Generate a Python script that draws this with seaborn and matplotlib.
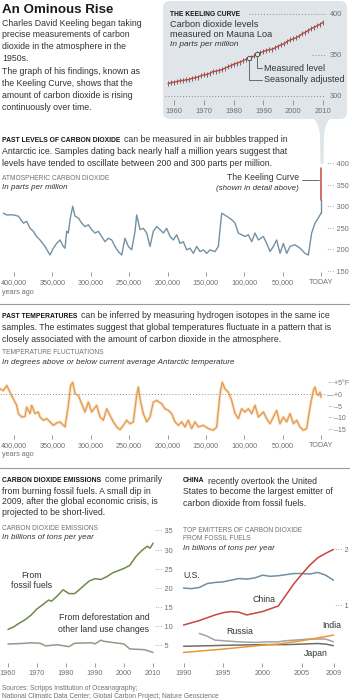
import matplotlib
matplotlib.use("Agg")
import matplotlib.pyplot as plt
from matplotlib.transforms import Affine2D
from matplotlib.patches import FancyBboxPatch, PathPatch
from matplotlib.path import Path
from matplotlib.lines import Line2D
import numpy as np
import pandas as pd
import seaborn as sns

# ---------------------------------------------------------------- data
keeling_years = list(range(1958, 2011))
keeling_ppm = [315.3, 316.0, 316.9, 317.6, 318.5, 319.0, 319.6, 320.0, 321.4, 322.2,
               323.0, 324.6, 325.7, 326.3, 327.5, 329.7, 330.2, 331.1, 332.0, 333.8,
               335.4, 336.8, 338.7, 339.9, 341.1, 342.8, 344.4, 345.9, 347.2, 348.9,
               351.5, 352.9, 354.2, 355.6, 356.4, 357.1, 358.8, 360.8, 362.6, 363.7,
               366.7, 368.4, 369.6, 371.1, 373.2, 375.8, 377.5, 379.8, 381.9, 383.8,
               385.6, 387.4, 389.9]
keeling_seasonal_amp = 3.0
keeling_xticks = [1960, 1970, 1980, 1990, 2000, 2010]
keeling_yticks = [400, 350, 300]

co2_kyr_ago = [413.9, 409.5, 400.9, 394.3, 387.8, 383.5, 379.1, 374.8, 370.5, 366.1,
               359.6, 353.1, 348.7, 344.4, 340.1, 335.7, 333.5, 331.4, 329.2, 327.0,
               323.5, 320.5, 316.2, 311.8, 307.5, 303.1, 298.8, 294.5, 290.1, 285.8,
               281.4, 277.1, 272.7, 268.4, 264.1, 259.7, 255.4, 251.0, 246.7, 242.3,
               240.2, 235.8, 231.5, 227.1, 222.8, 218.5, 214.1, 209.8, 205.4, 201.1,
               196.7, 192.4, 188.0, 183.7, 179.4, 175.0, 170.7, 166.3, 162.0, 157.6,
               153.3, 149.0, 144.6, 138.1, 133.8, 129.4, 122.9, 116.4, 112.0, 107.7,
               103.4, 99.0, 94.7, 90.3, 86.0, 81.6, 75.1, 70.8, 66.4, 62.1,
               57.8, 53.4, 49.1, 44.7, 40.4, 33.9, 27.4, 20.8, 16.5, 12.2,
               7.8, 3.5, 0.0]
co2_ppm = [285, 281, 281, 278, 262, 266, 250, 243, 231, 223,
           208, 188, 204, 215, 223, 208, 204, 243, 239, 270,
           301, 278, 274, 262, 254, 258, 247, 239, 243, 231,
           219, 227, 223, 208, 196, 188, 227, 208, 200, 243,
           281, 247, 250, 239, 208, 243, 254, 247, 239, 250,
           231, 223, 235, 215, 219, 200, 204, 192, 208, 196,
           200, 192, 200, 196, 208, 285, 278, 270, 262, 239,
           235, 231, 235, 219, 239, 223, 231, 215, 196, 208,
           223, 192, 215, 192, 208, 212, 204, 192, 188, 239,
           262, 274, 285]

temp_kyr_ago = [418.2, 413.9, 409.5, 405.2, 400.9, 396.5, 394.3, 390.0, 385.6, 383.5,
                379.1, 377.0, 372.6, 368.3, 366.1, 361.8, 357.5, 353.1, 348.7, 344.4,
                340.1, 333.5, 329.2, 326.2, 323.5, 320.5, 316.2, 311.8, 307.5, 303.1,
                298.8, 292.3, 287.9, 283.6, 279.2, 274.9, 270.6, 266.2, 261.9, 257.5,
                253.2, 248.9, 244.5, 240.2, 238.0, 235.8, 231.5, 227.1, 222.8, 218.5,
                214.1, 207.6, 203.3, 198.9, 194.6, 190.2, 185.9, 181.5, 177.2, 172.9,
                168.5, 164.2, 159.8, 153.3, 146.8, 140.3, 135.9, 131.6, 128.6, 125.1,
                120.7, 116.4, 112.0, 107.7, 103.4, 99.0, 94.7, 90.3, 86.0, 81.6,
                75.1, 70.8, 66.4, 62.1, 57.8, 53.4, 49.1, 44.7, 40.4, 36.0,
                31.7, 27.4, 23.0, 18.7, 14.3, 10.0, 7.8, 5.6, 3.5, 1.3,
                0.0]
temp_deg_f = [2.4, 1.7, 3.9, 1.0, -1.9, -4.7, -8.3, -9.8, -9.5, -5.5,
              -8.3, -4.7, -8.3, -7.6, -9.8, -11.2, -10.5, -11.9, -13.4, -12.4,
              -11.9, -14.1, -4.7, 3.9, 5.3, 0.3, -0.4, -4.0, -7.6, -3.3,
              -7.6, -4.7, -9.8, -11.2, -6.2, -9.1, -11.9, -14.1, -15.3, -13.4,
              -11.2, -12.7, -11.9, -0.4, 3.2, -1.9, -8.3, -11.9, -9.8, -3.3,
              -2.6, -4.0, -6.2, -6.9, -8.3, -11.9, -13.4, -11.9, -14.1, -11.2,
              -14.8, -11.9, -14.1, -13.4, -14.8, -15.5, -14.1, 0.3, 5.3, 2.4,
              1.0, -2.6, -8.3, -10.5, -6.2, -7.6, -6.2, -8.3, -4.7, -9.8,
              -7.6, -10.5, -12.7, -9.8, -6.9, -12.7, -9.8, -11.9, -8.3, -12.7,
              -11.2, -14.1, -15.5, -14.8, -5.5, 1.7, 3.2, 0.3, -0.4, 1.0,
              -1.2]

ice_ticks_kyr = [400, 350, 300, 250, 200, 150, 100, 50, 0]
ice_tick_labels = ['400,000', '350,000', '300,000', '250,000', '200,000',
                   '150,000', '100,000', '50,000', 'TODAY']
co2_yticks = [400, 350, 300, 250, 200, 150]
temp_yticks = [5, 0, -5, -10, -15]
temp_ytick_labels = ['+5°F', '+0', '–5', '–10', '–15']

fossil_years = [1960, 1962, 1964, 1966, 1968, 1970, 1972, 1974, 1975, 1977,
                1979, 1981, 1983, 1985, 1988, 1990, 1992, 1994, 1996, 1998,
                2000, 2002, 2004, 2006, 2008, 2009, 2010]
fossil_gt = [9.2, 9.9, 10.9, 11.8, 13.0, 14.6, 15.7, 16.9, 16.6, 18.0,
             19.6, 18.6, 18.6, 19.9, 21.9, 22.5, 22.3, 23.0, 24.0, 24.6,
             25.2, 26.0, 28.2, 29.8, 31.0, 30.5, 31.8]
land_years = [1960, 1964, 1968, 1971, 1973, 1977, 1981, 1983, 1989, 1990,
              1992, 1993, 2000, 2002, 2007, 2010]
land_gt = [5.4, 5.5, 5.7, 5.6, 4.9, 5.2, 4.7, 5.6, 5.7, 5.4,
           6.4, 6.1, 5.4, 4.1, 3.9, 3.2]
emis_xticks = [1960, 1970, 1980, 1990, 2000, 2010]
emis_yticks = [35, 30, 25, 20, 15, 10, 5]

china_years = [1990, 1991, 1992, 1993, 1994, 1995, 1996, 1997, 1998, 1999,
               2000, 2001, 2002, 2003, 2004, 2005, 2006, 2007, 2008, 2009]
china_gt = [0.66, 0.70, 0.74, 0.79, 0.84, 0.88, 0.90, 0.89, 0.84, 0.87,
            0.90, 0.95, 1.00, 1.20, 1.40, 1.57, 1.73, 1.86, 1.94, 2.01]
us_years = [1990, 1991, 1992, 1993, 1994, 1995, 1996, 1997, 1998, 1999,
            2000, 2001, 2002, 2003, 2004, 2005, 2006, 2007, 2008, 2009]
us_gt = [1.32, 1.31, 1.33, 1.40, 1.42, 1.43, 1.46, 1.49, 1.48, 1.50,
         1.55, 1.53, 1.54, 1.56, 1.58, 1.58, 1.57, 1.60, 1.55, 1.46]
russia_years = [1992, 1993, 1994, 1995, 1996, 1997, 1998, 1999, 2000, 2001,
                2002, 2003, 2004, 2005, 2006, 2007, 2008, 2009]
russia_gt = [0.51, 0.46, 0.39, 0.38, 0.37, 0.36, 0.355, 0.35, 0.355, 0.36,
             0.36, 0.38, 0.39, 0.40, 0.41, 0.41, 0.41, 0.36]
india_years = [1990, 1995, 2000, 2002, 2005, 2007, 2009]
india_gt = [0.17, 0.23, 0.30, 0.32, 0.38, 0.43, 0.48]
japan_years = [1990, 1993, 1996, 2000, 2003, 2005, 2007, 2008, 2009]
japan_gt = [0.28, 0.29, 0.30, 0.31, 0.31, 0.32, 0.33, 0.32, 0.29]
emit_xticks = [1990, 1995, 2000, 2005, 2009]
emit_yticks = [2, 1]

# ---------------------------------------------------------------- style
sns.set_theme(style="white")
plt.rcParams['font.family'] = ['Liberation Sans', 'DejaVu Sans']
plt.rcParams['axes.unicode_minus'] = False

DARK = '#333333'
GRAY = '#707070'
TICK = '#8a8a8a'
BODY = 6.3
C_CO2 = '#7391a3'
C_RED = '#c4463e'
C_TEMP = '#e49a4a'
C_FOSSIL = '#6f8a4c'
C_LAND = '#8e9c87'
C_US = '#6f8fa3'
C_INDIA = '#ef9431'
C_RUSSIA = '#a3a3a3'
C_JAPAN = '#6e6e6e'
BOX = '#dfe5e9'

W, H = 350, 700
fig = plt.figure(figsize=(3.5, 7), dpi=100)
fig.patch.set_facecolor('white')
PX = Affine2D().scale(1 / 100, -1 / 100).translate(0, 7) + fig.dpi_scale_trans
R = fig.canvas.get_renderer()


def txt(x, y, s, size=BODY, color=DARK, weight='normal', style='normal',
        ha='left', va='center', **kw):
    return fig.text(x, y, s, transform=PX, fontsize=size, color=color,
                    fontweight=weight, fontstyle=style, ha=ha, va=va, **kw)


def runs(x, y, bold, rest, bsize=4.9, gap=3.5):
    t = txt(x, y, bold, size=bsize, weight='bold', color='#151515')
    w = t.get_window_extent(R).width
    txt(x + w + gap, y, rest)


def add_ax(x0, y0, x1, y1):
    ax = fig.add_axes([x0 / W, 1 - y1 / H, (x1 - x0) / W, (y1 - y0) / H])
    ax.patch.set_alpha(0)
    return ax


def style_ax(ax, xticks, xlabels, yticks, ylabels, xlim, ylim, ypad=1.0, ysize=5.3):
    for s in ax.spines.values():
        s.set_visible(False)
    ax.grid(False)
    ax.set_xlim(*xlim)
    ax.set_ylim(*ylim)
    ax.set_xticks(xticks)
    ax.set_xticklabels(xlabels)
    ax.yaxis.tick_right()
    ax.set_yticks(yticks)
    ax.set_yticklabels(ylabels)
    ax.tick_params(axis='x', direction='out', length=3, width=0.6, color=TICK,
                   labelsize=5.2, labelcolor=GRAY, pad=2, bottom=True)
    ax.tick_params(axis='y', length=0, pad=ypad, labelsize=ysize,
                   labelcolor=GRAY, right=True, left=False)
    ax.set_xlabel('')
    ax.set_ylabel('')


def hline(x0, x1, y, color='#9a9a9a', lw=0.8):
    fig.add_artist(Line2D([x0, x1], [y, y], transform=PX, color=color, lw=lw))


# ---------------------------------------------------------------- intro
txt(2, 10, 'An Ominous Rise', size=9.6, weight='bold', color='#1a1a1a')
for i, s in enumerate(['Charles David Keeling began taking',
                       'precise measurements of carbon',
                       'dioxide in the atmosphere in the', '1950s.']):
    txt(2, 23 + 11.7 * i, s)
for i, s in enumerate(['The graph of his findings, known as',
                       'the Keeling Curve, shows that the',
                       'amount of carbon dioxide is rising',
                       'continuously over time.']):
    txt(2, 72 + 11.7 * i, s)

# ---------------------------------------------------------------- Keeling box
box = FancyBboxPatch((163, 1), 184, 118, boxstyle='round,pad=0,rounding_size=7',
                     transform=PX, facecolor=BOX, edgecolor='none', zorder=-5)
fig.add_artist(box)
verts = [(311, 117), (318, 119), (320, 135), (320.5, 164), (323.5, 164),
         (324, 135), (326, 119), (333, 117), (311, 117)]
codes = [Path.MOVETO, Path.CURVE3, Path.CURVE3, Path.LINETO, Path.LINETO,
         Path.LINETO, Path.CURVE3, Path.CURVE3, Path.CLOSEPOLY]
fig.add_artist(PathPatch(Path(verts, codes), transform=PX, facecolor=BOX,
                         edgecolor='none', zorder=-5))

axk = add_ax(165, 8, 326, 100)
axk.errorbar(keeling_years, keeling_ppm, yerr=keeling_seasonal_amp, fmt='none',
             ecolor='#3a3a3a', elinewidth=0.5, zorder=2)
sns.lineplot(x=keeling_years, y=keeling_ppm, ax=axk, color=C_RED, linewidth=1.0,
             estimator=None, zorder=3)
style_ax(axk, keeling_xticks, [str(v) for v in keeling_xticks],
         keeling_yticks, [str(v) for v in keeling_yticks],
         (1956.98, 2011.0), (295.1, 407.3), ypad=3)
axk.tick_params(axis='x', labelsize=5.5, length=3.5, pad=2.5)
dot = dict(color='#8a8a8a', lw=0.7, linestyle=(0, (1, 2)), zorder=1)
axk.axhline(400, xmin=0.52, xmax=1.0, **dot)
axk.axhline(350, xmin=0.91, xmax=1.0, **dot)
axk.axhline(300, xmin=0.0, xmax=1.0, **dot)
txt(170, 14, 'THE KEELING CURVE', size=4.8, weight='bold', color='#151515')
txt(170, 24.5, 'Carbon dioxide levels', size=6.6)
txt(170, 34.5, 'measured on Mauna Loa', size=6.6)
txt(170, 45, 'In parts per million', size=6.0, style='italic')
i_adj = keeling_years.index(1985)
i_meas = keeling_years.index(1988)
for i, ylev, lab in [(i_adj, 319.5, 'Seasonally adjusted'),
                     (i_meas, 334.0, 'Measured level')]:
    xv, yv = keeling_years[i], keeling_ppm[i]
    axk.plot([xv], [yv], 'o', mfc=BOX, mec='#444', ms=3.2, mew=0.6, zorder=4)
    axk.plot([xv, xv, 1989.6], [yv - 2.6, ylev, ylev], color='#555', lw=0.6, zorder=1)
    axk.text(1990.2, ylev, lab, fontsize=6.4, color=DARK, va='center', ha='left')

# ---------------------------------------------------------------- CO2 ice core
runs(2, 140, 'PAST LEVELS OF CARBON DIOXIDE', 'can be measured in air bubbles trapped in')
txt(2, 152, 'Antarctic ice. Samples dating back nearly half a million years suggest that')
txt(2, 163.5, 'levels have tended to oscillate between 200 and 300 parts per million.')
txt(2, 178, 'ATMOSPHERIC CARBON DIOXIDE', size=4.8, color=GRAY)
txt(2, 187.5, 'In parts per million', size=5.8, style='italic', color=DARK)
txt(299, 178, 'The Keeling Curve', size=6.2, ha='right')
txt(299, 189, '(shown in detail above)', size=5.8, style='italic', ha='right')
hline(302, 319, 179.5, color='#555', lw=0.6)

axc = add_ax(0, 160, 326, 272)
sns.lineplot(x=co2_kyr_ago, y=co2_ppm, ax=axc, color=C_CO2, linewidth=1.0,
             estimator=None)
axc.plot([0, 0], [co2_ppm[-1], keeling_ppm[0]], color=C_CO2, lw=1.0)
axc.plot([0, 0], [keeling_ppm[0], keeling_ppm[-1]], color=C_RED, lw=1.1)
style_ax(axc, ice_ticks_kyr, ice_tick_labels, co2_yticks,
         ['··· ' + str(v) for v in co2_yticks], (418.24, -6.5), (148.8, 408.1))
txt(2, 292, 'years ago', size=5.2, color=GRAY)
hline(0, 350, 304)

# ---------------------------------------------------------------- temperatures
runs(2, 316, 'PAST TEMPERATURES', 'can be inferred by measuring hydrogen isotopes in the same ice')
txt(2, 328, 'samples. The estimates suggest that global temperatures fluctuate in a pattern that is')
txt(2, 340, 'closely associated with the amount of carbon dioxide in the atmosphere.')
txt(2, 353, 'TEMPERATURE FLUCTUATIONS', size=4.8, color=GRAY)
txt(2, 363, 'In degrees above or below current average Antarctic temperature',
    size=5.8, style='italic')

axt = add_ax(0, 378, 326, 435)
axt.axhline(0, color='#8a8a8a', lw=0.7, linestyle=(0, (1, 2)), zorder=1)
sns.lineplot(x=temp_kyr_ago, y=temp_deg_f, ax=axt, color=C_TEMP, linewidth=2.2,
             alpha=0.3, estimator=None, zorder=2)
sns.lineplot(x=temp_kyr_ago, y=temp_deg_f, ax=axt, color=C_TEMP, linewidth=0.9,
             estimator=None, zorder=3)
style_ax(axt, ice_ticks_kyr, ice_tick_labels, temp_yticks,
         ['···' + s if s != '+0' else '—' + s for s in temp_ytick_labels],
         (418.24, -6.5), (-17.6, 7.17), ypad=0.8, ysize=5.0)
txt(2, 455, 'years ago', size=5.2, color=GRAY)
hline(0, 350, 468)

# ---------------------------------------------------------------- emissions
runs(2, 480, 'CARBON DIOXIDE EMISSIONS', 'come primarily')
txt(2, 491, 'from burning fossil fuels. A small dip in')
txt(2, 502, '2009, after the global economic crisis, is')
txt(2, 512.5, 'projected to be short-lived.')
txt(2, 528, 'CARBON DIOXIDE EMISSIONS', size=4.8, color=GRAY)
txt(2, 537.5, 'In billions of tons per year', size=5.8, style='italic')

emis_df = pd.concat([
    pd.DataFrame({'year': fossil_years, 'gt': fossil_gt, 'source': 'fossil'}),
    pd.DataFrame({'year': land_years, 'gt': land_gt, 'source': 'land'}),
])
axe = add_ax(2, 525, 154, 663)
sns.lineplot(data=emis_df, x='year', y='gt', hue='source', ax=axe,
             palette={'fossil': C_FOSSIL, 'land': C_LAND}, linewidth=1.1,
             estimator=None, legend=False)
style_ax(axe, emis_xticks, [str(v) for v in emis_xticks], emis_yticks,
         ['··· ' + str(v) for v in emis_yticks], (1957.93, 2010.34), (0.415, 36.57))
txt(32, 575, 'From', size=6.3, ha='center')
txt(32, 586, 'fossil fuels', size=6.3, ha='center')
txt(104, 617, 'From deforestation and', size=6.3, ha='center')
txt(104, 629, 'other land use changes', size=6.3, ha='center')

# ---------------------------------------------------------------- top emitters
runs(183, 481, 'CHINA', 'recently overtook the United')
txt(183, 492, 'States to become the largest emitter of')
txt(183, 503, 'carbon dioxide from fossil fuels.')
txt(183, 530, 'TOP EMITTERS OF CARBON DIOXIDE', size=4.8, color=GRAY)
txt(183, 538.5, 'FROM FOSSIL FUELS', size=4.8, color=GRAY)
txt(183, 548, 'In billions of tons per year', size=5.8, style='italic')

emit_df = pd.concat([
    pd.DataFrame({'year': us_years, 'gt': us_gt, 'country': 'U.S.'}),
    pd.DataFrame({'year': russia_years, 'gt': russia_gt, 'country': 'Russia'}),
    pd.DataFrame({'year': japan_years, 'gt': japan_gt, 'country': 'Japan'}),
    pd.DataFrame({'year': india_years, 'gt': india_gt, 'country': 'India'}),
    pd.DataFrame({'year': china_years, 'gt': china_gt, 'country': 'China'}),
])
axm = add_ax(178, 525, 334, 663)
sns.lineplot(data=emit_df, x='year', y='gt', hue='country', ax=axm,
             palette={'U.S.': C_US, 'China': C_RED, 'Russia': C_RUSSIA,
                      'India': C_INDIA, 'Japan': C_JAPAN},
             linewidth=1.1, estimator=None, legend=False)
style_ax(axm, emit_xticks, [str(v) for v in emit_xticks], emit_yticks,
         ['··· ' + str(v) for v in emit_yticks], (1989.30, 2009.06), (-0.018, 2.446))
txt(183, 575, 'U.S.', size=6.3)
txt(264, 599, 'China', size=6.3, ha='center')
txt(240, 632, 'Russia', size=6.3, ha='center')
txt(332, 625, 'India', size=6.3, ha='center')
txt(316, 653, 'Japan', size=6.3, ha='center')

# ---------------------------------------------------------------- sources
txt(2, 689, 'Sources: Scripps Institution of Oceanography;', size=4.8, color=GRAY)
txt(2, 697, 'National Climatic Data Center; Global Carbon Project; Nature Geoscience',
    size=4.8, color=GRAY)

fig.savefig('out.png', dpi=100, facecolor='white')
